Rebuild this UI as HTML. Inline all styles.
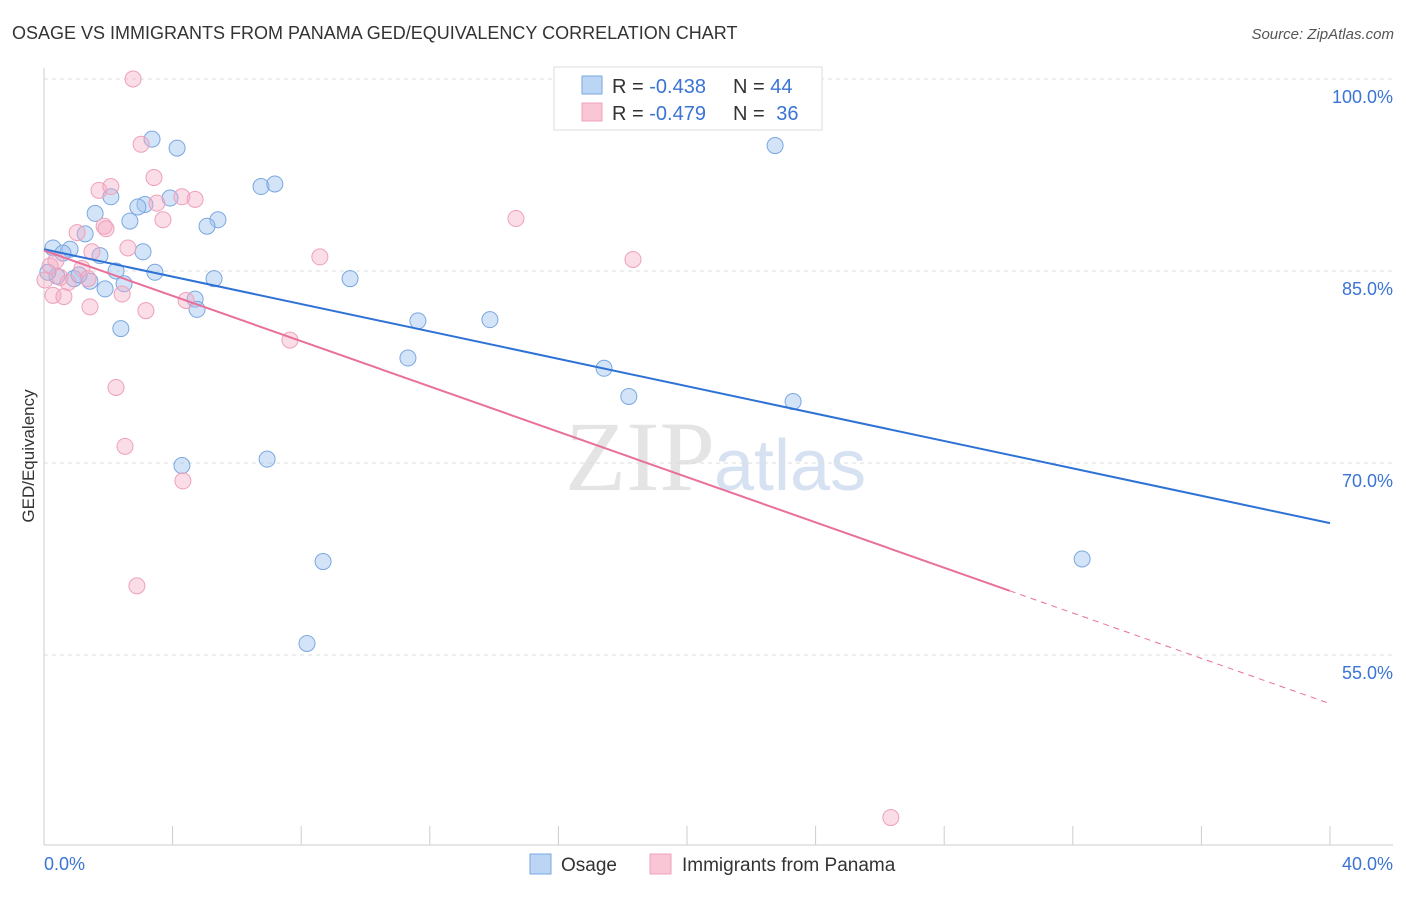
<!DOCTYPE html>
<html><head><meta charset="utf-8"><style>
body{margin:0;background:#fff;font-family:"Liberation Sans",sans-serif;}
</style></head><body>
<svg width="1406" height="892" xmlns="http://www.w3.org/2000/svg" id="svg" font-family="Liberation Sans, sans-serif">
<text x="12" y="39" font-size="18" fill="#333">OSAGE VS IMMIGRANTS FROM PANAMA GED/EQUIVALENCY CORRELATION CHART</text>
<text x="1394" y="39" font-size="15" fill="#555" font-style="italic" text-anchor="end">Source: ZipAtlas.com</text>
<text x="715" y="490" font-size="100" fill="#e4e4e4" text-anchor="end" font-family="Liberation Serif, serif">ZIP</text>
<text x="714" y="490" font-size="72" fill="#d6e2f2">atlas</text>
<g id="grid"></g><g id="axes"></g><g id="pts"></g><g id="lines"></g>
<text transform="translate(34,456) rotate(-90)" font-size="17" fill="#333" text-anchor="middle">GED/Equivalency</text>
<g>
<rect x="554" y="67" width="268" height="63" fill="#fff" stroke="#ddd"/>
<rect x="582" y="76" width="20" height="18" fill="#bcd5f5" stroke="#7aa7e0"/>
<rect x="582" y="103" width="20" height="18" fill="#f9c6d6" stroke="#eea0bb"/>
<text x="612" y="93" font-size="20" fill="#333">R = <tspan fill="#3a74d4">-0.438</tspan></text>
<text x="733" y="93" font-size="20" fill="#333">N = <tspan fill="#3a74d4">44</tspan></text>
<text x="612" y="120" font-size="20" fill="#333">R = <tspan fill="#3a74d4">-0.479</tspan></text>
<text x="733" y="120" font-size="20" fill="#333">N = <tspan fill="#3a74d4" dx="6">36</tspan></text>
</g>
<g>
<rect x="530" y="854" width="21" height="20" fill="#bcd5f5" stroke="#7aa7e0"/>
<text x="561" y="871" font-size="19" fill="#333">Osage</text>
<rect x="650" y="854" width="21" height="20" fill="#f9c6d6" stroke="#eea0bb"/>
<text x="682" y="871" font-size="19" fill="#333">Immigrants from Panama</text>
</g>
</svg>
<script>
const yTicks=[100,85,70,55];
const yTickLabels=["100.0%","85.0%","70.0%","55.0%"];
const osageX=[3.36,4.14,22.74,6.75,7.18,2.08,3.92,3.14,2.92,1.59,2.67,5.41,5.07,1.28,0.28,0.81,0.59,1.74,3.08,2.24,3.45,0.40,0.93,1.43,5.29,9.52,2.49,1.90,4.70,4.76,11.63,13.87,2.39,11.32,17.42,18.19,23.30,4.29,6.94,8.68,32.29,8.18,0.12,1.09];
const osageY=[95.3,94.6,94.8,91.6,91.8,90.8,90.7,90.2,90.0,89.5,88.9,89.0,88.5,87.9,86.8,86.7,86.4,86.2,86.5,85.0,84.9,84.6,84.4,84.2,84.4,84.4,84.0,83.6,82.8,82.0,81.1,81.2,80.5,78.2,77.4,75.2,74.8,69.8,70.3,62.3,62.5,55.9,84.9,84.7];
const panX=[2.77,3.02,3.42,1.71,2.08,4.29,4.70,3.51,3.70,14.68,1.87,1.03,1.93,2.61,8.58,18.32,0.37,1.49,0.19,1.18,0.50,0.75,1.37,0.28,0.62,2.43,1.43,3.17,4.42,7.65,2.24,2.52,4.32,2.89,26.34,0.03];
const panY=[100,94.9,92.3,91.3,91.6,90.8,90.6,90.3,89.0,89.1,88.5,88.0,88.3,86.8,86.1,85.9,85.8,86.5,85.4,85.2,84.5,84.1,84.4,83.1,83.0,83.2,82.2,81.9,82.7,79.6,75.9,71.3,68.6,60.4,42.3,84.3];
const osageTrend=[86.7,65.3];
const panTrend=[86.6,51.2];
const panSolidEnd=30.04;
const NS="http://www.w3.org/2000/svg";
const xs=v=>44+v/40*1286, ys=v=>79+(100-v)*12.8;
function mk(p,t,a){const e=document.createElementNS(NS,t);for(const k in a)e.setAttribute(k,a[k]);document.getElementById(p).appendChild(e);return e;}
yTicks.forEach((t,i)=>{
 const l=mk('grid','line',{x1:44,x2:1393,y1:ys(t),y2:ys(t),stroke:'#ddd','stroke-dasharray':'4,4'});
 
 
 const tx=mk('grid','text',{x:1393,y:ys(t)+24,'font-size':18,fill:'#3a74d4','text-anchor':'end'});tx.textContent=yTickLabels[i];
 
 
});
const ax=mk('axes','line',{x1:44,x2:44,y1:68,y2:845,stroke:'#ccc'});


const bx=mk('axes','line',{x1:44,x2:1393,y1:845,y2:845,stroke:'#ccc'});


for(let v=0;v<=40;v+=4){const t=mk('axes','line',{x1:xs(v),x2:xs(v),y1:826,y2:845,stroke:'#ccc'});
 
 }
[[0,"0.0%",'start',44],[40,"40.0%",'end',1393]].forEach(d=>{const t=mk('axes','text',{x:d[3],y:870,'font-size':18,fill:'#3a74d4','text-anchor':d[2]});t.textContent=d[1];
 
 });
osageX.forEach((x,i)=>{const c=mk('pts','circle',{cx:xs(x),cy:ys(osageY[i]),r:8,fill:'rgba(160,196,240,0.45)',stroke:'#7aa7e0','stroke-width':1});
 
 });
panX.forEach((x,i)=>{const c=mk('pts','circle',{cx:xs(x),cy:ys(panY[i]),r:8,fill:'rgba(244,170,195,0.4)',stroke:'#eea0bb','stroke-width':1});
 
 });
const bl=mk('lines','line',{x1:xs(0),y1:ys(osageTrend[0]),x2:xs(40),y2:ys(osageTrend[1]),stroke:'#2f72d6','stroke-width':2});


const pm=panTrend[0]+(panTrend[1]-panTrend[0])*panSolidEnd/40;
const pl=mk('lines','line',{x1:xs(0),y1:ys(panTrend[0]),x2:xs(panSolidEnd),y2:ys(pm),stroke:'#e8709a','stroke-width':2});


const pd=mk('lines','line',{x1:xs(panSolidEnd),y1:ys(pm),x2:xs(40),y2:ys(panTrend[1]),stroke:'#e8709a','stroke-width':1,'stroke-dasharray':'6,5'});


</script>
</body></html>
